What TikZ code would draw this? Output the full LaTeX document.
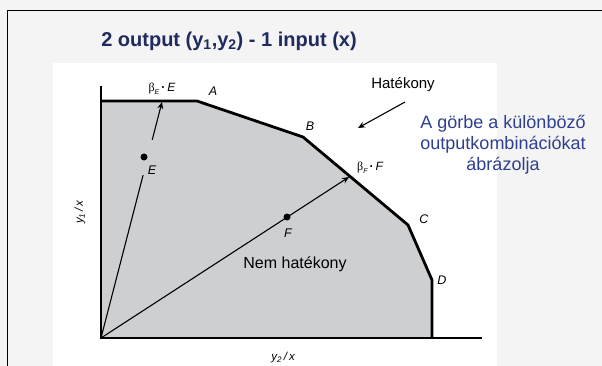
\documentclass[tikz,border=0pt]{standalone}
\usepackage{fontspec}
\setmainfont{Liberation Sans}
\newfontfamily\serifg{Liberation Serif}
\usetikzlibrary{arrows.meta,calc}
\definecolor{navy}{HTML}{1F2A5E}
\definecolor{bluetxt}{HTML}{2E3F8F}
\definecolor{regiongray}{HTML}{CDCFD1}
\definecolor{bggray}{HTML}{F4F4F4}
\tikzset{
  axisline/.style={line width=2.4pt, line cap=rect},
  frontier/.style={line width=2.8pt, line join=miter},
  ray/.style={line width=1.1pt},
  tip/.style={-{Stealth[length=7pt,width=6pt]}},
  ptlabel/.style={font=\itshape\fontsize{12.5}{14}\selectfont},
  dot/.style={circle, fill=black, inner sep=0pt, minimum size=7pt},
}
\begin{document}
\begin{tikzpicture}[x=1pt,y=-1pt]
\useasboundingbox (0,0) rectangle (602,366);
\fill[bggray] (0,0) rectangle (602,366);
\fill[white] (53,63) rectangle (497,366);
\draw[line width=1pt] (7,370) -- (7,11) -- (606,11);

% title
\node[font=\bfseries\fontsize{20}{23}\selectfont, text=navy] (title) at (229,41) {2 output (y\textsubscript{1},y\textsubscript{2}) - 1 input (x)};

% frontier coordinates
\coordinate (O) at (101,338);
\coordinate (T) at (101,101);
\coordinate (A) at (197,101);
\coordinate (B) at (303,137);
\coordinate (C) at (408,225);
\coordinate (D) at (432,280);
\coordinate (Dbot) at (432,338);
\coordinate (ytop) at (101,87);
\coordinate (xend) at (481,338);

\fill[regiongray] (O) -- (T) -- (A) -- (B) -- (C) -- (D) -- (Dbot) -- cycle;
\draw[frontier] (T) -- (A) -- (B) -- (C) -- (D) -- (Dbot);
\draw[axisline] (ytop) -- (O) -- (xend);

% rays
\coordinate (BE) at (162,102);
\coordinate (BF) at (349,177);
\draw[ray] (O) -- ($(O)!0.69!(BE)$);
\draw[ray, tip] ($(O)!0.84!(BE)$) -- (BE);
\draw[ray, tip] (O) -- (BF);
\node[dot] (E) at (144,157) {};
\node[dot] (F) at (287,217) {};

% labels
\node[ptlabel] (lA) at (213,91) {A};
\node[ptlabel] (lB) at (310,126) {B};
\node[ptlabel] (lC) at (424,219) {C};
\node[ptlabel] (lD) at (442,280) {D};
\node[ptlabel] (lE) at (152,170) {E};
\node[ptlabel] (lF) at (288,233) {F};
\node[font=\fontsize{12}{14}\selectfont] (lBE) at (162,89) {{\serifg β}\raisebox{-0.35ex}{\itshape\fontsize{7}{8}\selectfont E}\,{\bfseries·}\,{\itshape E}};
\node[font=\fontsize{12}{14}\selectfont] (lBF) at (370,168) {{\serifg β}\raisebox{-0.35ex}{\itshape\fontsize{7}{8}\selectfont F}\,{\bfseries·}\,{\itshape F}};

\node[font=\fontsize{15}{17}\selectfont] (hat) at (403,85) {Hatékony};
\coordinate (hs) at (405,102);
\coordinate (he) at (358,128);
\draw[ray, tip] (hs) -- (he);

\node[font=\fontsize{16}{18}\selectfont] (nhat) at (295,264) {Nem hatékony};

\node[font=\fontsize{18}{21}\selectfont, text=bluetxt, align=center] (desc) at (503,145) {A görbe a különböző\\outputkombinációkat\\ábrázolja};

% axis labels
\node[rotate=90, font=\itshape\fontsize{11.5}{13}\selectfont] (ylab) at (80,212) {y\textsubscript{1}\,/\,x};
\node[font=\itshape\fontsize{11.5}{13}\selectfont] (xlab) at (283,358) {y\textsubscript{2}\,/\,x};
\end{tikzpicture}
\end{document}
